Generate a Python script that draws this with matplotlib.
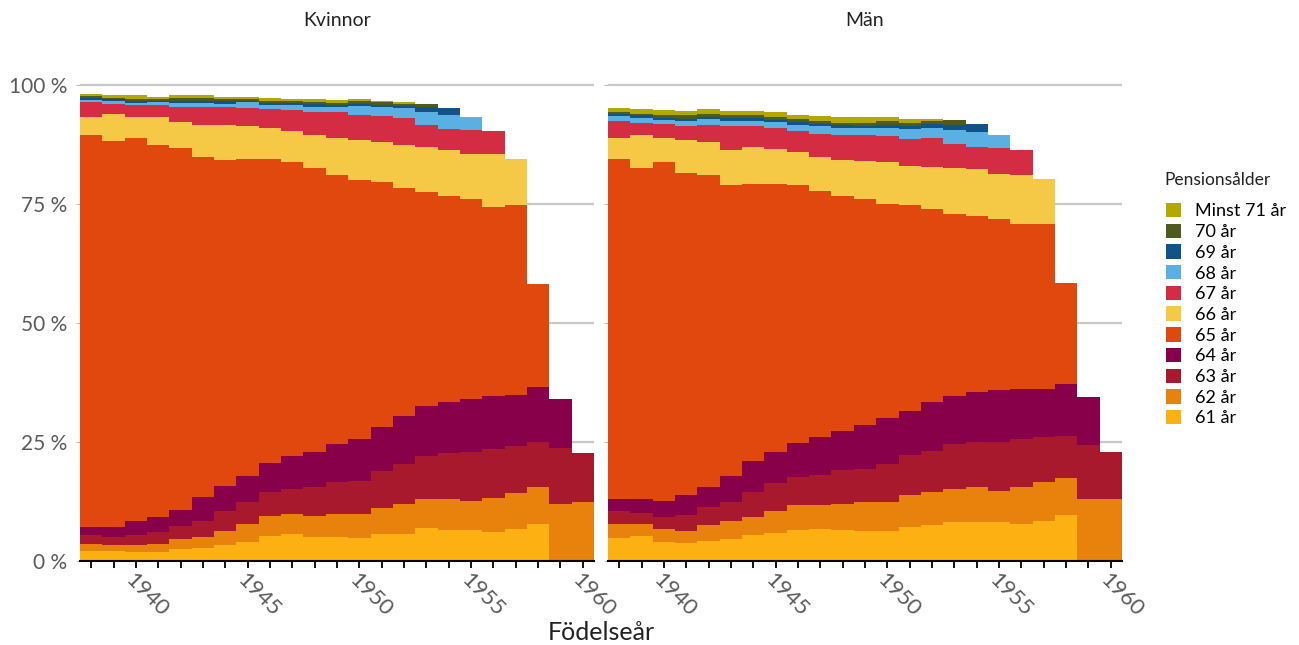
import matplotlib
matplotlib.use("Agg")
import matplotlib.pyplot as plt
from matplotlib.patches import Patch
import numpy as np

plt.rcParams['font.family'] = ['Lato', 'DejaVu Sans']

# birth cohorts 1938-1960, share (%) retiring at each age
years = list(range(1938, 1961))
ages = ["61 år", "62 år", "63 år", "64 år", "65 år", "66 år",
        "67 år", "68 år", "69 år", "70 år", "Minst 71 år"]
colors = ["#FDB012", "#E8820C", "#A8192E", "#880049", "#E0480E", "#F5C946",
          "#D42D43", "#5AAFE3", "#0F5388", "#4D5B1E", "#B3A800"]

# Kvinnor
k61 = [2.0, 2.2, 1.8, 1.8, 2.5, 2.8, 3.4, 4.0, 5.3, 5.7, 5.1, 5.1, 4.9, 5.7, 5.7, 6.9, 6.5, 6.5, 6.0, 6.7, 7.8, 0, 0]
k62 = [1.6, 1.2, 1.6, 1.8, 2.1, 2.3, 3.0, 3.7, 4.2, 4.1, 4.3, 4.7, 4.9, 5.5, 6.3, 6.1, 6.6, 6.2, 7.3, 7.5, 7.7, 12.0, 12.4]
k63 = [1.9, 1.7, 2.0, 2.4, 2.8, 3.4, 4.2, 4.6, 4.9, 5.3, 6.2, 6.7, 7.1, 7.8, 8.3, 9.1, 9.5, 10.1, 10.3, 10.0, 9.5, 11.8, 10.2]
k64 = [1.6, 2.0, 3.1, 3.2, 3.3, 4.9, 5.2, 5.6, 6.1, 7.0, 7.4, 8.1, 8.7, 9.2, 10.1, 10.5, 10.7, 11.2, 11.1, 10.7, 11.5, 10.2, 0]
k65 = [82.5, 81.1, 80.3, 78.2, 76.0, 71.5, 68.4, 66.6, 64.0, 61.7, 59.6, 56.6, 54.4, 51.5, 47.9, 44.9, 43.4, 42.0, 39.6, 39.9, 21.6, 0, 0]
k66 = [3.7, 5.8, 4.5, 5.9, 5.6, 6.6, 7.3, 6.8, 6.4, 6.5, 7.0, 7.6, 8.4, 8.4, 9.0, 9.4, 9.6, 9.5, 11.2, 9.7, 0, 0, 0]
k67 = [3.1, 2.1, 2.5, 2.5, 3.1, 3.9, 3.9, 3.9, 4.1, 4.5, 4.8, 5.5, 5.4, 5.4, 5.8, 4.8, 4.4, 5.0, 4.8, 0, 0, 0, 0]
k68 = [0.5, 0.5, 0.4, 0.6, 0.9, 0.9, 0.7, 1.2, 0.9, 1.0, 1.0, 1.0, 1.8, 1.8, 2.0, 2.7, 3.1, 2.8, 0, 0, 0, 0, 0]
k69 = [0.4, 0.4, 0.4, 0.3, 0.4, 0.4, 0.5, 0.3, 0.4, 0.4, 0.6, 0.5, 0.5, 0.5, 0.5, 1.0, 1.3, 0, 0, 0, 0, 0, 0]
k70 = [0.3, 0.3, 0.4, 0.3, 0.5, 0.5, 0.4, 0.4, 0.4, 0.4, 0.4, 0.5, 0.5, 0.6, 0.5, 0.6, 0, 0, 0, 0, 0, 0, 0]
k71 = [0.5, 0.6, 0.8, 0.5, 0.6, 0.6, 0.5, 0.4, 0.5, 0.5, 0.6, 0.5, 0.4, 0.3, 0.4, 0, 0, 0, 0, 0, 0, 0, 0]

# Män
m61 = [4.9, 5.3, 4.0, 3.8, 4.1, 4.7, 5.5, 5.9, 6.5, 6.7, 6.5, 6.3, 6.3, 7.1, 7.5, 8.2, 8.1, 8.1, 7.7, 8.4, 9.7, 0, 0]
m62 = [2.9, 2.5, 2.7, 2.6, 3.5, 3.7, 3.8, 4.6, 5.3, 5.1, 5.5, 6.0, 6.0, 6.8, 7.1, 6.9, 7.4, 6.7, 7.9, 8.1, 7.8, 13.0, 13.1]
m63 = [2.8, 2.3, 2.6, 3.3, 3.7, 3.9, 5.3, 5.8, 5.9, 6.3, 7.1, 7.1, 8.1, 8.4, 8.6, 9.5, 9.5, 10.2, 10.1, 9.5, 8.8, 11.4, 9.9]
m64 = [2.5, 2.9, 3.4, 4.2, 4.3, 5.6, 6.5, 6.7, 7.0, 8.0, 8.3, 9.1, 9.7, 9.3, 10.3, 10.1, 10.5, 10.9, 10.5, 10.1, 10.8, 10.1, 0]
m65 = [71.4, 69.6, 71.1, 67.7, 65.6, 61.0, 58.0, 56.3, 54.2, 51.6, 49.3, 47.6, 45.0, 43.2, 40.5, 38.1, 37.0, 36.0, 34.5, 34.8, 21.4, 0, 0]
m66 = [4.4, 7.0, 5.1, 6.8, 6.8, 7.5, 7.9, 7.3, 7.0, 7.2, 7.6, 7.9, 8.8, 8.2, 8.8, 9.8, 9.8, 9.5, 10.5, 9.4, 0, 0, 0]
m67 = [3.5, 2.5, 2.9, 2.9, 3.5, 4.9, 4.3, 4.3, 4.4, 4.9, 5.2, 5.4, 5.4, 5.6, 6.0, 5.0, 4.7, 5.3, 5.1, 0, 0, 0, 0]
m68 = [1.1, 1.0, 0.8, 1.1, 1.3, 1.2, 1.2, 1.3, 1.4, 1.5, 1.5, 1.5, 1.7, 2.1, 2.1, 2.9, 3.2, 2.7, 0, 0, 0, 0, 0]
m69 = [0.5, 0.5, 0.5, 0.5, 0.5, 0.5, 0.5, 0.4, 0.5, 0.5, 0.5, 0.5, 0.6, 0.7, 1.0, 1.2, 1.6, 0, 0, 0, 0, 0, 0]
m70 = [0.4, 0.3, 0.7, 0.7, 0.6, 0.7, 0.6, 0.6, 0.6, 0.6, 0.6, 0.7, 0.9, 0.7, 0.6, 1.0, 0, 0, 0, 0, 0, 0, 0]
m71 = [0.7, 1.1, 0.9, 0.9, 1.0, 0.9, 1.0, 1.2, 1.0, 1.1, 1.2, 1.1, 0.7, 0.7, 0.4, 0, 0, 0, 0, 0, 0, 0, 0]

kvinnor = [k61, k62, k63, k64, k65, k66, k67, k68, k69, k70, k71]
man = [m61, m62, m63, m64, m65, m66, m67, m68, m69, m70, m71]

W, H = 1299, 645
fig = plt.figure(figsize=(W / 100, H / 100), dpi=100)
ax_k = fig.add_axes([80 / W, 84 / H, 514 / W, 485.5 / H])
ax_m = fig.add_axes([608 / W, 84 / H, 514 / W, 485.5 / H])

edges = np.arange(years[0] - 0.5, years[-1] + 1.0, 1.0)
grey = "#5a5a5a"

for ax, series, title in [(ax_k, kvinnor, "Kvinnor"), (ax_m, man, "Män")]:
    base = np.zeros(len(years))
    for vals, col in zip(series, colors):
        top = base + np.array(vals)
        ax.stairs(top, edges, baseline=base, fill=True, color=col, lw=0)
        base = top

    ax.set_xlim(edges[0], edges[-1])
    ax.set_ylim(0, 102)
    ax.set_yticks([0, 25, 50, 75, 100])
    ax.grid(axis='y', color='#c8c8c8', lw=1.6)
    ax.set_axisbelow(True)
    for s in ['top', 'right', 'left']:
        ax.spines[s].set_visible(False)
    ax.spines['bottom'].set_color('black')
    ax.spines['bottom'].set_linewidth(1.5)
    ax.spines['bottom'].set_zorder(5)

    ax.set_xticks([1940, 1945, 1950, 1955, 1960])
    ax.set_xticks(years, minor=True)
    ax.tick_params(axis='x', which='both', length=5, width=1.3, color='black',
                   labelsize=16, labelcolor=grey, pad=1)
    for lab in ax.get_xticklabels():
        lab.set_rotation(-45)
        lab.set_ha('left')
        lab.set_va('top')
        lab.set_rotation_mode('anchor')
    ax.tick_params(axis='y', length=3, color='#bbbbbb', labelsize=15,
                   labelcolor=grey, pad=6)

    pos = ax.get_position()
    fig.text((pos.x0 + pos.x1) / 2, 1 - 20 / H, title, ha='center', va='center',
             fontsize=14, color='#222222')

ax_k.set_yticklabels(["0 %", "25 %", "50 %", "75 %", "100 %"])
ax_m.set_yticklabels([])

fig.text(601 / W, 1 - 633 / H, "Födelseår", ha='center', va='center',
         fontsize=18, color='#222222')

# legend title drawn separately to get the larger gap above the entries
fig.text(1164 / W, 1 - 180 / H, "Pensionsålder", ha='left', va='center',
         fontsize=12.5, color='#222222')
handles = [Patch(facecolor=c, edgecolor='none') for c in colors][::-1]
fig.legend(handles, ages[::-1], loc='upper left',
           bbox_to_anchor=(1166 / W, 1 - 203 / H), frameon=False,
           borderpad=0, borderaxespad=0,
           fontsize=13, handlelength=0.85, handleheight=0.85,
           labelspacing=0.235, handletextpad=0.75)

fig.savefig("out.png", dpi=100)
